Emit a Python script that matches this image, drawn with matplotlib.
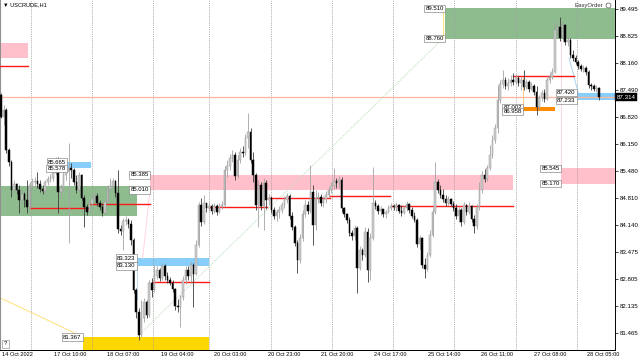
import matplotlib
matplotlib.use('Agg')
import matplotlib.pyplot as plt
from matplotlib.patches import Rectangle
import numpy as np

plt.rcParams['font.family'] = ['Liberation Sans', 'DejaVu Sans']

# USCRUDE H1 candles (open of each bar = close of previous one)
first_open = 87.36
closes = [86.82, 86.99, 86.00, 85.70, 85.01, 85.16, 85.01, 84.76, 84.91, 84.76,
          84.59, 85.13, 85.21, 85.23, 85.16, 85.03, 84.99, 85.21, 85.28, 85.31,
          85.43, 85.75, 84.96, 85.06, 85.38, 85.46, 85.56, 85.51, 85.21, 85.01,
          85.38, 84.81, 84.59, 84.46, 84.66, 84.79, 84.86, 84.69, 84.59, 84.44,
          84.71, 85.03, 85.11, 85.23, 84.94, 84.04, 83.99, 84.24, 84.27, 84.17,
          83.77, 82.53, 81.99, 81.42, 81.84, 82.23, 81.91, 82.71, 82.53, 82.88,
          83.03, 82.83, 83.13, 82.88, 82.78, 82.71, 82.56, 82.14, 82.11, 82.36,
          82.78, 83.03, 82.88, 83.15, 82.93, 83.65, 84.64, 84.22, 84.69, 84.56,
          84.61, 84.49, 84.61, 84.46, 84.61, 84.64, 85.51, 85.60, 85.80, 85.88,
          85.36, 85.75, 85.95, 85.93, 86.30, 86.45, 85.75, 85.38, 84.64, 85.13,
          84.61, 85.18, 84.76, 84.81, 84.51, 84.37, 84.46, 84.51, 84.64, 84.76,
          84.86, 84.37, 84.09, 83.70, 83.28, 83.82, 84.41, 84.64, 84.49, 84.96,
          84.14, 84.81, 84.84, 84.69, 84.79, 84.89, 85.01, 85.11, 85.23, 85.18,
          85.26, 84.56, 84.41, 84.27, 83.94, 83.87, 84.07, 83.08, 83.52, 83.40,
          83.97, 83.03, 83.82, 84.69, 84.61, 84.49, 84.54, 84.41, 84.46, 84.56,
          84.61, 84.59, 84.64, 84.49, 84.44, 84.56, 84.66, 84.51, 84.37, 84.27,
          83.67, 83.82, 83.15, 83.05, 83.40, 83.90, 84.46, 85.21, 85.01, 84.89,
          84.79, 84.69, 84.79, 84.66, 84.56, 84.37, 84.51, 84.22, 84.64, 84.46,
          84.61, 84.29, 84.12, 84.59, 85.01, 85.38, 85.28, 85.56, 85.88, 86.25,
          86.55, 87.24, 87.64, 87.74, 87.59, 87.66, 87.74, 87.69, 87.79, 87.66,
          87.74, 87.56, 87.69, 87.51, 87.59, 87.44, 87.07, 87.29, 87.41, 87.26,
          87.74, 87.81, 87.93, 88.97, 89.05, 88.78, 89.10, 88.68, 88.73, 88.36,
          88.28, 88.18, 88.08, 88.01, 88.03, 87.93, 87.61, 87.59, 87.51, 87.54,
          87.31]
highs = [87.41, 87.12, 87.04, 86.05, 85.75, 85.26, 85.18, 85.13, 85.01, 84.96,
         85.26, 85.21, 85.31, 85.33, 85.46, 85.26, 85.13, 85.26, 85.36, 85.41,
         85.51, 85.83, 85.83, 85.16, 85.46, 85.63, 86.17, 85.68, 85.56, 85.38,
         85.46, 85.41, 84.89, 84.66, 84.76, 84.86, 84.96, 84.94, 84.76, 84.69,
         84.76, 85.13, 85.31, 85.31, 85.26, 85.51, 84.14, 84.32, 84.37, 84.32,
         84.27, 83.82, 82.58, 82.09, 82.28, 82.33, 82.28, 82.78, 82.83, 83.15,
         83.13, 83.08, 83.20, 83.18, 82.98, 82.85, 82.78, 82.58, 82.31, 82.41,
         82.88, 83.13, 83.13, 83.23, 83.20, 83.77, 84.71, 84.81, 84.89, 84.69,
         84.71, 84.66, 84.69, 84.66, 84.69, 84.74, 85.60, 85.75, 85.90, 86.00,
         85.95, 85.88, 86.05, 86.10, 86.40, 86.92, 86.55, 85.95, 85.43, 85.26,
         85.21, 85.31, 85.26, 84.91, 84.86, 84.59, 84.54, 84.61, 84.71, 84.86,
         84.94, 84.91, 84.46, 84.14, 83.77, 83.92, 84.51, 84.76, 84.74, 85.63,
         85.13, 85.01, 84.96, 84.91, 84.86, 84.99, 85.08, 85.21, 85.56, 85.31,
         85.36, 85.33, 84.59, 84.44, 84.34, 84.02, 84.14, 84.12, 83.62, 83.57,
         84.09, 84.07, 83.94, 85.58, 84.76, 84.66, 84.61, 84.54, 84.51, 84.64,
         84.69, 84.66, 84.71, 84.66, 84.64, 84.64, 84.74, 84.69, 84.59, 84.46,
         84.32, 83.90, 83.85, 83.33, 83.47, 84.02, 84.56, 85.70, 85.28, 85.13,
         85.03, 84.89, 84.86, 84.81, 84.74, 84.66, 84.61, 84.56, 84.71, 84.66,
         84.71, 84.64, 84.39, 84.66, 85.21, 85.48, 85.53, 85.63, 86.12, 86.37,
         86.65, 87.61, 87.74, 87.98, 87.81, 87.79, 87.86, 87.91, 87.88, 87.83,
         87.81, 87.98, 87.76, 87.74, 87.69, 87.64, 87.59, 87.36, 87.49, 87.51,
         87.83, 87.91, 88.03, 89.12, 89.22, 89.30, 89.17, 89.12, 88.83, 88.78,
         88.48, 88.36, 88.23, 88.13, 88.11, 88.08, 87.98, 87.66, 87.64, 87.61,
         87.56]
lows = [86.79, 86.62, 85.93, 85.60, 84.84, 84.94, 84.91, 84.44, 84.69, 84.59,
        84.44, 84.54, 85.06, 85.11, 85.06, 84.96, 84.91, 84.94, 85.13, 85.21,
        85.23, 85.38, 84.44, 84.81, 84.99, 85.26, 83.70, 85.31, 85.13, 84.94,
        84.96, 84.76, 84.09, 84.39, 84.41, 84.61, 84.74, 84.61, 84.51, 84.37,
        84.41, 84.69, 84.96, 85.03, 84.84, 83.94, 83.90, 83.52, 84.14, 84.07,
        83.65, 82.46, 81.84, 81.29, 81.37, 81.74, 81.84, 81.86, 82.36, 82.48,
        82.80, 82.75, 82.78, 82.78, 82.71, 82.66, 82.48, 82.04, 81.99, 81.62,
        82.28, 82.68, 82.78, 82.73, 82.11, 82.90, 83.60, 84.12, 84.17, 84.46,
        84.49, 84.41, 84.44, 84.39, 84.44, 84.54, 84.59, 85.33, 85.51, 85.70,
        85.26, 85.31, 85.68, 85.83, 85.88, 86.05, 85.68, 85.21, 84.51, 84.09,
        84.51, 84.02, 84.54, 84.64, 84.44, 84.29, 84.24, 84.32, 84.44, 84.56,
        84.69, 84.29, 84.02, 83.62, 82.95, 83.20, 83.75, 84.34, 84.41, 84.44,
        83.65, 84.02, 84.69, 84.61, 84.59, 84.69, 84.81, 84.94, 85.03, 85.06,
        85.06, 84.46, 84.34, 84.19, 83.87, 83.77, 83.77, 82.46, 83.03, 83.28,
        83.35, 82.73, 82.78, 83.77, 84.54, 84.41, 84.39, 84.34, 84.32, 84.44,
        84.51, 84.51, 84.49, 84.44, 84.37, 84.41, 84.49, 84.44, 84.32, 84.22,
        83.60, 83.55, 83.08, 82.83, 83.00, 83.35, 83.85, 84.41, 84.94, 84.81,
        84.71, 84.61, 84.64, 84.61, 84.49, 84.29, 84.22, 84.12, 84.17, 84.39,
        84.41, 84.22, 83.94, 84.04, 84.51, 84.94, 85.21, 85.23, 85.51, 85.80,
        86.17, 86.42, 87.17, 87.54, 87.51, 87.49, 87.59, 87.61, 87.64, 87.59,
        87.49, 87.49, 87.51, 87.44, 87.49, 87.36, 86.87, 87.02, 87.22, 87.19,
        87.24, 87.66, 87.76, 87.91, 88.78, 88.70, 88.73, 88.60, 88.58, 88.28,
        88.21, 88.13, 88.01, 87.96, 87.93, 87.86, 87.54, 87.49, 87.46, 87.44,
        87.24]

last_price = 87.314
price_ticks = ['89.495', '88.825', '88.160', '87.490', '86.820', '86.150', '85.480',
               '84.810', '84.140', '83.475', '82.805', '82.135', '81.465']
time_labels = ['14 Oct 2022', '17 Oct 10:00', '18 Oct 07:00', '19 Oct 04:00',
               '20 Oct 03:00', '20 Oct 23:00', '21 Oct 20:00', '24 Oct 17:00',
               '25 Oct 14:00', '26 Oct 11:00', '27 Oct 08:00', '28 Oct 05:00']
time_label_bars = [0.4, 20.4, 40.8, 61.5, 81.9, 102.7, 123.1, 143.5, 164.2, 184.6, 205.0, 225.4]
day_breaks = [11.4, 34.9, 58.5, 80.0, 103.7, 127.2, 150.8, 174.2, 198.0, 221.4]

# zones: (x0, x1, top, bottom, colour, top label, bottom label)
zones = [
    (-1, 10.4, 88.65, 88.28, '#ffbfcb', None, None),
    (-1, 52.3, 85.11, 84.37, '#8fbc8f', None, None),
    (25.4, 34.6, 85.70, 85.55, '#87cefa', '85.665', '85.578'),
    (57.3, 196.9, 85.385, 85.010, '#ffbfcb', '85.385', '85.010'),
    (52.3, 80.0, 83.323, 83.13, '#87cefa', '83.323', '83.130'),
    (31.5, 80.0, 81.367, 80.0, '#ffd700', '81.367', None),
    (170.8, 240, 89.510, 88.760, '#8fbc8f', '89.510', '88.760'),
    (215.4, 240, 85.545, 85.170, '#ffbfcb', '85.545', '85.170'),
    (200.8, 213.0, 87.06, 86.96, '#ff8c00', '87.002', '86.958'),
    (221.5, 240, 87.420, 87.233, '#87cefa', '87.420', '87.233'),
]
# daily levels: (x0, x1, price)
levels = [(-1, 10.4, 88.08), (11.2, 33.5, 84.56), (33.8, 57.3, 84.66),
          (58.1, 80.0, 82.73), (79.6, 102.3, 84.59), (102.7, 126.5, 84.81),
          (126.5, 149.6, 84.86), (150.4, 196.9, 84.61), (196.9, 220.4, 87.83)]

fig = plt.figure(figsize=(6.4, 3.6), dpi=100)
ax = fig.add_axes([0, 10 / 360, 615 / 640, 350 / 360])
ax.set_xlim(-0.385, 236.15)
ax.set_ylim(81.045, 89.718)

tag_box = dict(boxstyle='square,pad=0.2', fc='white', ec='#808080', lw=0.45)
for x0, x1, top, bot, col, lt, lb in zones:
    ax.add_patch(Rectangle((x0, bot), x1 - x0, top - bot, fc=col, ec='none', zorder=0.5))
    if lt:
        ax.text(x0 - 0.5, top, lt, ha='right', va='center', fontsize=4.3, zorder=7,
                bbox=tag_box)
    if lb:
        ax.text(x0 - 0.5, bot, lb, ha='right', va='center', fontsize=4.3, zorder=7,
                bbox=tag_box)

for d in day_breaks:
    ax.axvline(d, color='#9c9c9c', lw=0.6, ls=(0, (1, 1.2)), zorder=0.8)

ax.axhline(last_price, color='#ffb69a', lw=0.9, zorder=0.9)

for x0, x1, p in levels:
    ax.plot([x0, x1], [p, p], color='#ff1a1a', lw=1.0, zorder=3)

# thin helper lines of the drawn objects
ax.plot([52.3, 170.0], [81.37, 88.76], color='#b8e0b8', lw=0.7, ls=(0, (1, 1)), zorder=1)
ax.plot([-1, 31.5], [82.36, 81.37], color='#ffe07a', lw=0.7, zorder=1)
ax.plot([170.0, 170.0], [88.76, 89.51], color='#ffe07a', lw=0.7, zorder=1)
ax.plot([215.4, 215.4], [85.545, 88.73], color='#ffd6de', lw=0.7, zorder=1)
ax.plot([57.3, 54.5], [85.01, 83.32], color='#ffd6de', lw=0.7, zorder=1)
ax.plot([52.3, 52.3], [83.13, 82.30], color='#bcdcf2', lw=0.7, zorder=1)
ax.plot([200.8, 200.8], [87.06, 87.83], color='#ffc98a', lw=0.7, zorder=1)
ax.plot([218.5, 222.0], [88.28, 87.42], color='#a8d4f2', lw=0.7, zorder=1)

# candles
n = len(closes)
idx = np.arange(n)
o = np.array([first_open] + closes[:-1])
c = np.array(closes)
h = np.maximum(np.array(highs), np.maximum(o, c))
l = np.minimum(np.array(lows), np.minimum(o, c))
up = c >= o
dn = ~up
ax.vlines(idx[up], l[up], h[up], color='#a4a4a4', lw=0.6, zorder=4)
ax.vlines(idx[dn], l[dn], h[dn], color='#3a3a3a', lw=0.6, zorder=4)
body = np.maximum(np.abs(c - o), 0.02)
ax.bar(idx[up], body[up], bottom=np.minimum(o, c)[up], width=0.62,
       color='#cdcdcd', edgecolor='#9c9c9c', linewidth=0.35, zorder=5)
ax.bar(idx[dn], body[dn], bottom=np.minimum(o, c)[dn], width=0.62,
       color='#000000', edgecolor='#000000', linewidth=0.35, zorder=5)

# axes look
ax.spines['top'].set_visible(False)
ax.spines['left'].set_color('#909090')
ax.spines['left'].set_linewidth(0.8)
ax.spines['right'].set_linewidth(0.7)
ax.spines['bottom'].set_linewidth(0.7)
ax.set_xticks([])
ax.set_yticks([float(t) for t in price_ticks])
ax.set_yticklabels(price_ticks)
ax.tick_params(axis='y', left=False, labelleft=False, right=True, labelright=True,
               length=2, width=0.5, pad=1.5, labelsize=4.4)

for xb, lab in zip(time_label_bars, time_labels):
    ax.text(xb, -0.006, lab, transform=ax.get_xaxis_transform(), ha='left', va='top',
            fontsize=4.1)

ax.text(236.15 + 0.7, last_price, '%.3f' % last_price, ha='left', va='center',
        fontsize=4.4, color='white', clip_on=False, zorder=8,
        bbox=dict(boxstyle='square,pad=0.22', fc='black', ec='black', lw=0.3))

fig.text(3 / 640, 1 - 5 / 360, '\u25bc USCRUDE,H1', fontsize=4.1, ha='left', va='center')
fig.text(603 / 640, 1 - 5 / 360, 'EasyOrder', fontsize=4.3, ha='right', va='center',
         color='#333333')
ax.plot([0.989], [0.985], marker='o', ms=3.6, mfc='white', mec='#555555', mew=0.5,
        transform=ax.transAxes, clip_on=False, zorder=8)
ax.text(0.006, 0.018, '?', transform=ax.transAxes, fontsize=4.3, ha='left', va='center',
        bbox=dict(boxstyle='square,pad=0.25', fc='white', ec='#808080', lw=0.4), zorder=8)

fig.savefig('out.png', dpi=100)
